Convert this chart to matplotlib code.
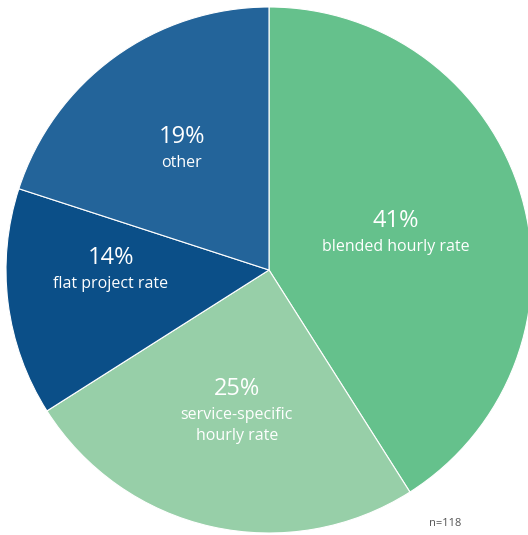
import matplotlib
matplotlib.use('Agg')
import matplotlib.pyplot as plt
import numpy as np

shares = [41, 25, 14, 19]
names = ['blended hourly rate', 'service-specific\nhourly rate', 'flat project rate', 'other']
colors = ['#65c18c', '#97cfa8', '#0b4f88', '#23649a']
sample_size = 118

# rounded shares add up to 99, the last slice takes the rounding remainder
fractions = np.array(shares, dtype=float) / 100
fractions[-1] = 1 - fractions[:-1].sum()

# label anchor points (first text line) in pie coordinates, radius 1
label_pos = [(0.483, 0.087), (-0.122, -0.551), (-0.601, -0.053), (-0.331, 0.407)]

plt.rcParams['font.family'] = ['Open Sans', 'DejaVu Sans']

fig = plt.figure(figsize=(5.28, 5.35), dpi=100)
ax = fig.add_axes([6 / 528, 2 / 535, 526 / 528, 526 / 535])

ax.pie(fractions, colors=colors, startangle=90, counterclock=False, radius=1,
       normalize=False, wedgeprops=dict(edgecolor='white', linewidth=0.8))
ax.set_xlim(-1, 1)
ax.set_ylim(-1, 1)
ax.set_aspect('auto')
ax.axis('off')

for value, name, (x, y) in zip(shares, names, label_pos):
    ax.text(x, y + 0.1, f'{value}%', ha='center', va='center', color='white', fontsize=17)
    for i, line in enumerate(name.split('\n')):
        ax.text(x, y - i * 0.08, line, ha='center', va='center', color='white', fontsize=11.5)

fig.text(445 / 528, 1 - 524 / 535, f'n={sample_size}', ha='center', va='center', color='#555555', fontsize=8)

fig.savefig('out.png', dpi=100)
